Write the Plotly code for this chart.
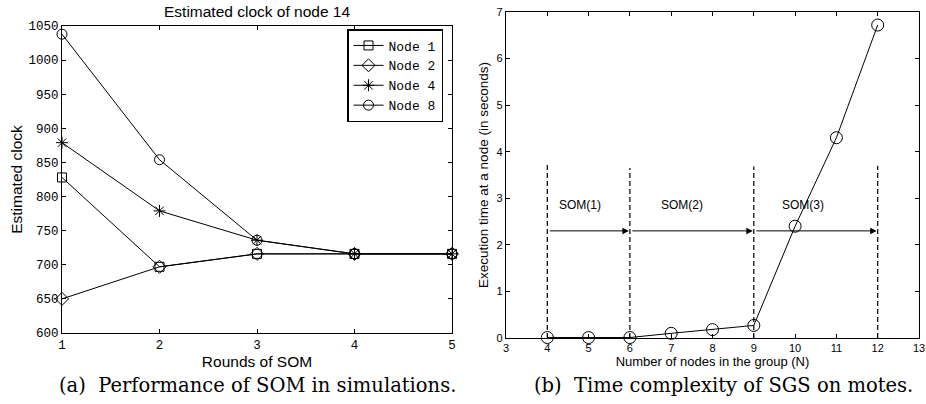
import plotly.graph_objects as go

# ---- Left chart data: estimated clock of node 14 ----
rounds = [1, 2, 3, 4, 5]
node1 = [828, 697, 716, 716, 716]
node2 = [650, 697, 716, 716, 716]
node4 = [879, 779, 736, 716, 716]
node8 = [1038, 854, 736, 716, 716]
left_names = ["Node 1", "Node 2", "Node 4", "Node 8"]
left_yticks = [600, 650, 700, 750, 800, 850, 900, 950, 1000, 1050]

# ---- Right chart data: execution time vs group size ----
group_n = [4, 5, 6, 7, 8, 9, 10, 11, 12]
exec_time = [0.01, 0.01, 0.01, 0.1, 0.18, 0.27, 2.4, 4.3, 6.72]
vline_x = [4, 6, 9, 12]
vline_top = [3.75, 3.65, 3.68, 3.7]
arrow_from = [4, 6, 9]
arrow_to = [6, 9, 12]
arrow_y = 2.3
som_labels = ["SOM(1)", "SOM(2)", "SOM(3)"]
som_label_x = [4.8, 7.27, 10.18]
som_label_y = 2.86

W, H = 926, 404
fig = go.Figure()

symbols = ["square-open", "diamond-open", "asterisk-open", "circle-open"]
sizes = [9, 10, 10, 10]
for name, ys, sym, sz in zip(left_names, [node1, node2, node4, node8], symbols, sizes):
    fig.add_trace(go.Scatter(
        x=rounds, y=ys, name=name, mode="lines+markers",
        line=dict(color="black", width=1),
        marker=dict(symbol=sym, size=sz, color="black", line=dict(color="black", width=1)),
        cliponaxis=False, xaxis="x", yaxis="y"))

for vx, vt in zip(vline_x, vline_top):
    fig.add_trace(go.Scatter(
        x=[vx, vx], y=[0, vt], mode="lines", showlegend=False,
        line=dict(color="black", width=1.2, dash="5px,3px"),
        xaxis="x2", yaxis="y2", hoverinfo="skip"))

fig.add_trace(go.Scatter(
    x=group_n, y=exec_time, mode="lines+markers", showlegend=False,
    line=dict(color="black", width=1),
    marker=dict(symbol="circle-open", size=12, color="black", line=dict(color="black", width=1)),
    cliponaxis=False, xaxis="x2", yaxis="y2"))

annotations = []
for a, b in zip(arrow_from, arrow_to):
    annotations.append(dict(
        x=b, y=arrow_y, ax=a, ay=arrow_y, xref="x2", yref="y2", axref="x2", ayref="y2",
        text="", showarrow=True, arrowhead=2, arrowsize=1.3, arrowwidth=1,
        arrowcolor="black", standoff=1, startstandoff=1))
for t, lx in zip(som_labels, som_label_x):
    annotations.append(dict(
        x=lx, y=som_label_y, xref="x2", yref="y2", text=t, showarrow=False,
        font=dict(family="Liberation Sans, Arial", size=12, color="black")))

cap_font = dict(family="DejaVu Serif", size=19.5, color="black")
annotations.append(dict(
    x=257 / W, y=1 - 385 / H, xref="paper", yref="paper",
    text="(a)  Performance of SOM in simulations.", showarrow=False,
    font=cap_font, xanchor="center", yanchor="middle"))
annotations.append(dict(
    x=723 / W, y=1 - 385 / H, xref="paper", yref="paper",
    text="(b)  Time complexity of SGS on motes.", showarrow=False,
    font=cap_font, xanchor="center", yanchor="middle"))
annotations.append(dict(
    x=257 / W, y=1 - 11 / H, xref="paper", yref="paper",
    text="Estimated clock of node 14", showarrow=False,
    font=dict(family="Liberation Sans, Arial", size=15.5, color="black"),
    xanchor="center", yanchor="middle"))

axis_common = dict(showline=True, linecolor="black", linewidth=1.2, mirror="ticks",
                   ticks="inside", ticklen=4, tickcolor="black", showgrid=False,
                   zeroline=False, automargin=False)

fig.update_layout(
    width=W, height=H,
    margin=dict(l=0, r=0, t=0, b=0, pad=0, autoexpand=False),
    paper_bgcolor="white", plot_bgcolor="white",
    annotations=annotations,
    showlegend=True,
    legend=dict(x=347 / W, y=1 - 29 / H, xanchor="left", yanchor="top",
                bordercolor="black", borderwidth=1.5, bgcolor="white",
                font=dict(family="Liberation Mono, Courier New", size=13, color="black"),
                itemwidth=30, tracegroupgap=0),
    xaxis=dict(domain=[62 / W, 452 / W], range=[1, 5], tickvals=rounds,
               anchor="y",
               tickfont=dict(family="Liberation Mono, Courier New", size=12.5, color="black"),
               title=dict(text="Rounds of SOM", standoff=4,
                          font=dict(family="Liberation Sans, Arial", size=15.5, color="black")),
               **axis_common),
    yaxis=dict(domain=[1 - 333 / H, 1 - 26 / H], range=[600, 1050], tickvals=left_yticks,
               anchor="x",
               tickfont=dict(family="Liberation Mono, Courier New", size=12.5, color="black"),
               title=dict(text="Estimated clock", standoff=1,
                          font=dict(family="Liberation Sans, Arial", size=15.5, color="black")),
               **axis_common),
    xaxis2=dict(domain=[506 / W, 919 / W], range=[3, 13], dtick=1, tick0=3,
                anchor="y2",
                tickfont=dict(family="Liberation Sans, Arial", size=11, color="black"),
                title=dict(text="Number of nodes in the group (N)", standoff=0,
                           font=dict(family="Liberation Sans, Arial", size=13, color="black")),
                **axis_common),
    yaxis2=dict(domain=[1 - 338 / H, 1 - 12 / H], range=[0, 7], dtick=1, tick0=0,
                anchor="x2",
                tickfont=dict(family="Liberation Sans, Arial", size=11, color="black"),
                title=dict(text="Execution time at a node (in seconds)", standoff=4,
                           font=dict(family="Liberation Sans, Arial", size=13.5, color="black")),
                **axis_common),
)

fig.write_html("out.html", config={"displayModeBar": False},
               post_script="document.body.style.margin='0';")
